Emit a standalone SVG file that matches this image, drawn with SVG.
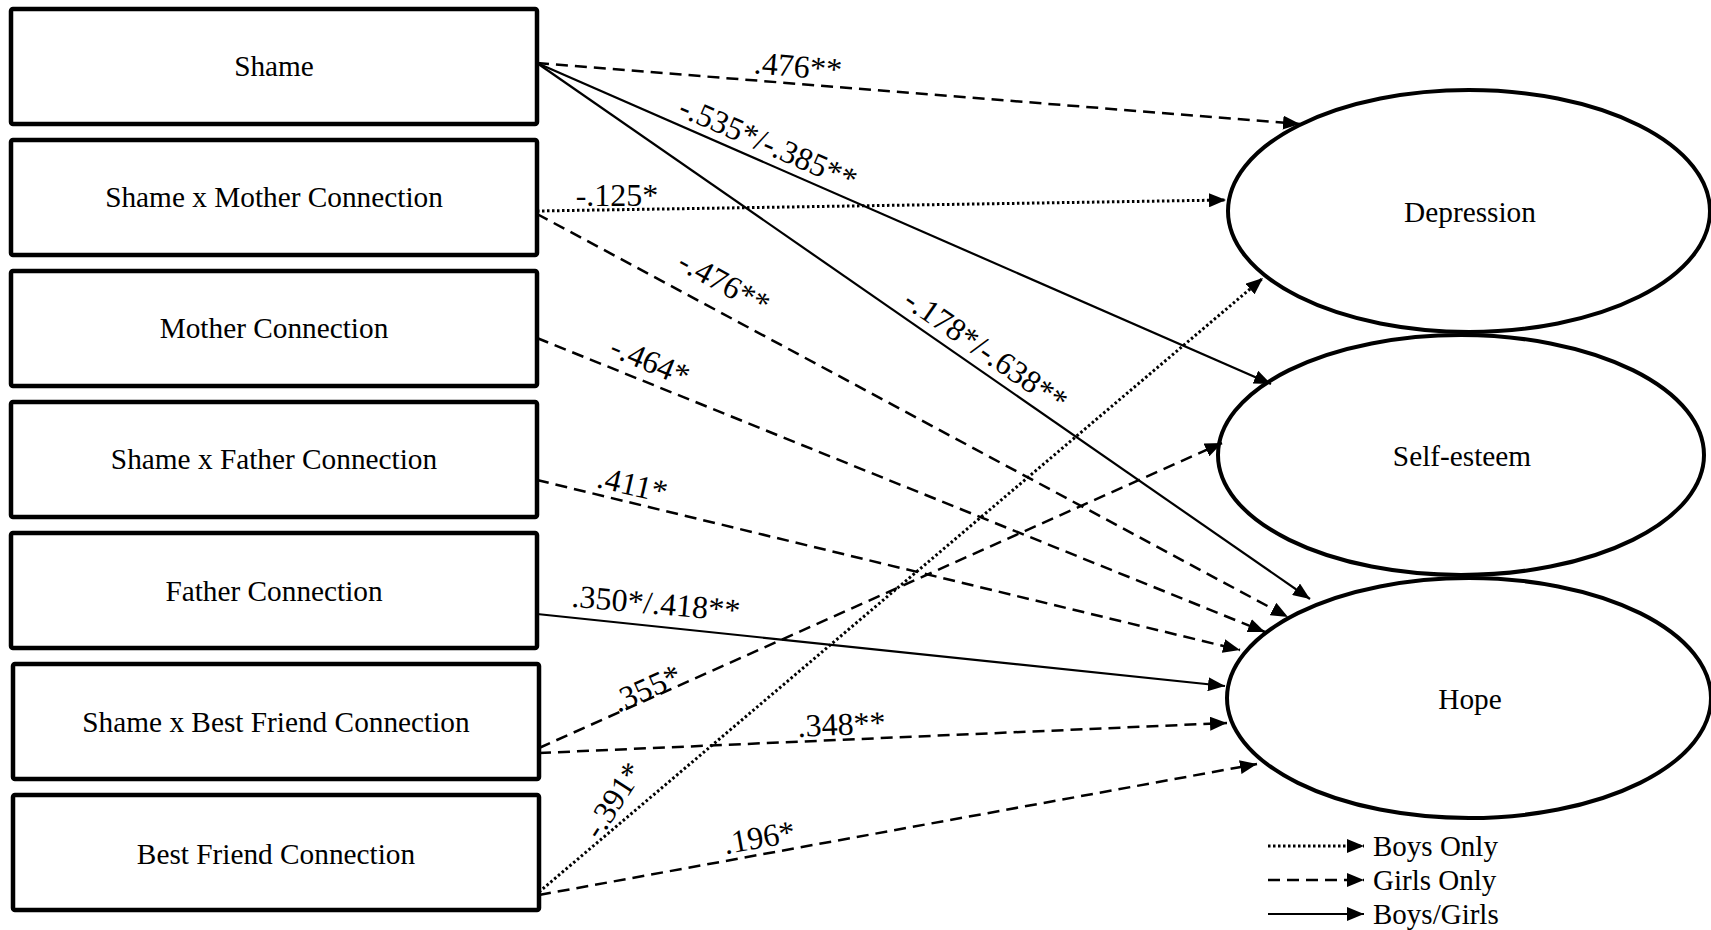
<svg xmlns="http://www.w3.org/2000/svg" width="1711" height="930" viewBox="0 0 1711 930">
  <defs>
    <marker id="arrow" markerUnits="userSpaceOnUse" markerWidth="18" markerHeight="14" refX="17" refY="7" orient="auto">
      <path d="M0,0 L17,7 L0,14 z" fill="#000"/>
    </marker>
    <style>
      .box { fill: #fff; stroke: #000; stroke-width: 4.5; }
      .oval { fill: #fff; stroke: #000; stroke-width: 4; }
      .name { font-family: "Liberation Serif", "Times New Roman", serif; font-size: 29.3px; fill: #000; text-anchor: middle; }
      .coef { font-family: "Liberation Serif", "Times New Roman", serif; font-size: 32px; fill: #000; text-anchor: middle; }
      .key { font-family: "Liberation Serif", "Times New Roman", serif; font-size: 29px; fill: #000; }
      .solid { stroke: #000; stroke-width: 2.2; fill: none; marker-end: url(#arrow); }
      .dash { stroke: #000; stroke-width: 2.5; fill: none; stroke-dasharray: 12 7; marker-end: url(#arrow); }
      .dot { stroke: #000; stroke-width: 3; fill: none; stroke-dasharray: 2.5 2.5; marker-end: url(#arrow); }
    </style>
  </defs>
  <rect width="1711" height="930" fill="#fff"/>

  <!-- predictor boxes -->
  <g id="shame"><rect class="box" x="11" y="9" width="526" height="115" rx="2"/><text class="name" x="274" y="76">Shame</text></g>
  <g id="shame-mother"><rect class="box" x="11" y="140" width="526" height="115" rx="2"/><text class="name" x="274" y="207">Shame x Mother Connection</text></g>
  <g id="mother"><rect class="box" x="11" y="271" width="526" height="115" rx="2"/><text class="name" x="274" y="338">Mother Connection</text></g>
  <g id="shame-father"><rect class="box" x="11" y="402" width="526" height="115" rx="2"/><text class="name" x="274" y="469">Shame x Father Connection</text></g>
  <g id="father"><rect class="box" x="11" y="533" width="526" height="115" rx="2"/><text class="name" x="274" y="601">Father Connection</text></g>
  <g id="shame-friend"><rect class="box" x="13" y="664" width="526" height="115" rx="2"/><text class="name" x="276" y="732">Shame x Best Friend Connection</text></g>
  <g id="friend"><rect class="box" x="13" y="795" width="526" height="115" rx="2"/><text class="name" x="276" y="864">Best Friend Connection</text></g>

  <!-- outcome ellipses -->
  <g id="depression"><ellipse class="oval" cx="1469" cy="211" rx="241" ry="121"/><text class="name" x="1470" y="222">Depression</text></g>
  <g id="self-esteem"><ellipse class="oval" cx="1461" cy="455" rx="243" ry="120"/><text class="name" x="1462" y="466">Self-esteem</text></g>
  <g id="hope"><ellipse class="oval" cx="1469" cy="698" rx="242" ry="120"/><text class="name" x="1470" y="709">Hope</text></g>

  <!-- paths -->
  <g id="connectors">
    <line class="dash" x1="537" y1="63" x2="1300" y2="124"/>
    <line class="solid" x1="537" y1="63" x2="1271" y2="384"/>
    <line class="solid" x1="537" y1="63" x2="1310" y2="599"/>
    <line class="dot" x1="537" y1="211" x2="1226" y2="200"/>
    <line class="dash" x1="537" y1="214" x2="1288" y2="617"/>
    <line class="dash" x1="537" y1="338" x2="1265" y2="632"/>
    <line class="dash" x1="537" y1="480" x2="1240" y2="650"/>
    <line class="solid" x1="537" y1="614" x2="1225" y2="686"/>
    <line class="dash" x1="539" y1="753" x2="1227" y2="723"/>
    <line class="dash" x1="539" y1="748" x2="1222" y2="443"/>
    <line class="dot" x1="539" y1="892" x2="1263" y2="278"/>
    <line class="dash" x1="539" y1="895" x2="1257" y2="764"/>
  </g>

  <!-- path coefficients -->
  <g id="coefficients">
    <text class="coef" transform="translate(797,77) rotate(4.8)">.476**</text>
    <text class="coef" transform="translate(764,153) rotate(23.6)">-.535*/-.385**</text>
    <text class="coef" transform="translate(980,359) rotate(34.7)">-.178*/-.638**</text>
    <text class="coef" x="617" y="206">-.125*</text>
    <text class="coef" transform="translate(719,292) rotate(29)">-.476**</text>
    <text class="coef" transform="translate(646,371) rotate(23)">-.464*</text>
    <text class="coef" transform="translate(630,495) rotate(13)">.411*</text>
    <text class="coef" transform="translate(655,614) rotate(5)">.350*/.418**</text>
    <text class="coef" transform="translate(651,698) rotate(-24)">.355*</text>
    <text class="coef" transform="translate(842,735) rotate(-2.5)">.348**</text>
    <text class="coef" transform="translate(622,806) rotate(-57)">-.391*</text>
    <text class="coef" transform="translate(761,848) rotate(-10)">.196*</text>
  </g>

  <!-- legend -->
  <g id="legend">
    <line class="dot" x1="1268" y1="846" x2="1364" y2="846"/>
    <text class="key" x="1373" y="856">Boys Only</text>
    <line class="dash" x1="1268" y1="880" x2="1364" y2="880"/>
    <text class="key" x="1373" y="890">Girls Only</text>
    <line class="solid" x1="1268" y1="914" x2="1364" y2="914"/>
    <text class="key" x="1373" y="924">Boys/Girls</text>
  </g>
</svg>
